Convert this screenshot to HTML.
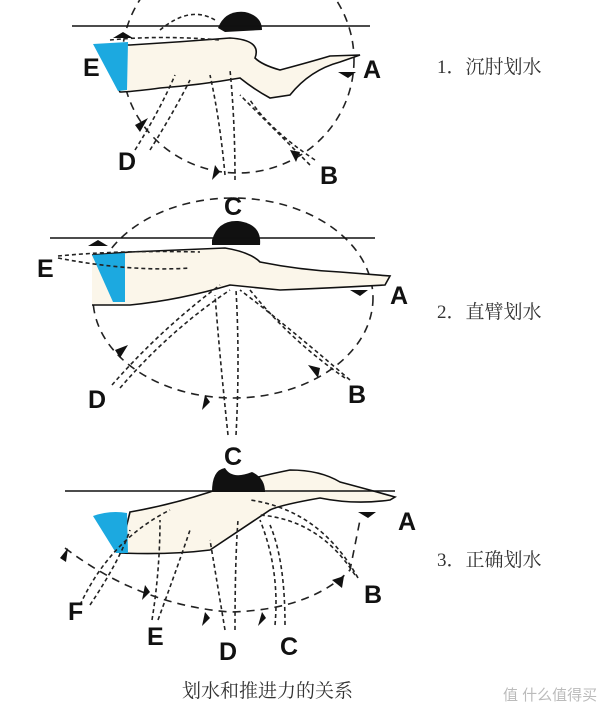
<!DOCTYPE html>
<html><head><meta charset="utf-8"><style>
html,body{margin:0;padding:0;background:#fff;width:600px;height:719px;overflow:hidden}
svg{display:block}
.L{font-family:"Liberation Sans",sans-serif;font-weight:bold;font-size:25px;fill:#111}
.T{font-family:"Liberation Serif","Noto Serif CJK SC",serif;font-size:19px;fill:#333}
.d{fill:none;stroke:#222;stroke-width:1.6;stroke-dasharray:4 3}
.c{fill:none;stroke:#222;stroke-width:1.6;stroke-dasharray:8 6}
.b{fill:#fbf6ea;stroke:#111;stroke-width:1.6}
.s{fill:#1ca9e0}
.a{fill:#111}
</style></head><body>
<svg width="600" height="719" viewBox="0 0 600 719" xmlns="http://www.w3.org/2000/svg">
<!-- Panel 1 -->
<ellipse class="c" cx="238" cy="60" rx="116" ry="113"/>
<path class="b" d="M95,45 L130,45 Q180,42 230,38 Q262,40 255,58 Q262,65 280,70 Q310,62 330,56 L360,55 L340,62 Q310,70 290,95 L270,98 Q255,90 240,78 Q200,85 160,88 Q130,92 120,92 Z"/>
<path class="s" d="M93,44 L128,42 L127,90 L118,91 Z"/>
<path d="M218,28 Q225,10 245,12 Q262,16 262,30 L225,32 Z" fill="#111"/>
<line x1="72" y1="26" x2="370" y2="26" stroke="#111" stroke-width="1.6"/>
<path class="d" d="M160,30 Q190,5 215,20 M110,40 Q160,35 220,40 M135,150 Q160,110 175,75 M150,150 Q175,110 190,80 M225,175 Q220,120 210,75 M235,180 Q235,120 230,70 M315,160 Q270,130 250,100 M310,165 Q260,115 240,95"/>
<path class="a" d="M113,38 L123,32 L133,38 Z M338,72 L348,78 L356,72 Z M135,125 L148,118 L140,132 Z M215,165 L212,180 L220,172 Z M290,150 L296,162 L300,152 Z"/>
<!-- Panel 2 -->
<ellipse class="c" cx="233" cy="298" rx="140" ry="100"/>
<path class="b" d="M92,255 L130,252 Q180,250 225,248 Q250,252 260,262 Q300,270 340,272 L390,276 L385,285 Q330,288 280,290 L230,285 Q180,300 130,305 L92,305" />
<path class="s" d="M92,255 L125,253 L125,302 L113,302 Z"/>
<path d="M212,240 Q218,220 238,221 Q262,224 260,245 L212,245 Z" fill="#111"/>
<line x1="50" y1="238" x2="375" y2="238" stroke="#111" stroke-width="1.6"/>
<path class="d" d="M58,256 Q120,250 200,252 M58,258 Q130,272 190,268 M112,385 Q160,330 220,285 M120,388 Q170,330 230,290 M228,435 Q220,360 215,295 M236,435 Q240,360 236,290 M345,378 Q290,340 250,290 M350,380 Q280,320 240,290"/>
<path class="a" d="M88,246 L98,240 L108,246 Z M350,290 L360,296 L368,290 Z M115,350 L128,345 L120,358 Z M205,395 L202,410 L210,402 Z M308,365 L318,378 L320,368 Z"/>
<!-- Panel 3 -->
<path class="c" d="M65,548 Q140,605 230,612 Q310,610 350,570 L360,520"/>
<path class="b" d="M130,512 Q170,505 210,492 L220,488 Q250,478 290,470 Q320,470 340,482 Q370,490 395,497 L390,500 Q355,505 320,498 Q280,505 270,510 Q240,530 210,550 Q170,555 120,553 Z"/>
<path class="s" d="M93,516 Q110,510 127,513 L128,553 L116,553 Z"/>
<path d="M212,492 Q212,470 225,468 Q232,480 252,472 Q265,478 265,492 Z" fill="#111"/>
<line x1="65" y1="491" x2="395" y2="491" stroke="#111" stroke-width="1.6"/>
<path class="d" d="M80,605 Q110,540 170,510 M90,605 Q120,560 130,530 M152,620 Q160,570 160,520 M158,620 Q180,560 190,530 M225,630 Q215,570 210,540 M235,630 Q235,560 238,520 M275,625 Q280,570 260,520 M285,625 Q285,560 270,525 M355,575 Q320,520 260,515 M358,578 Q320,510 250,500"/>
<path class="a" d="M358,512 L368,518 L376,512 Z M60,558 L68,548 L66,562 Z M145,585 L142,600 L150,592 Z M205,612 L202,626 L210,618 Z M262,612 L258,626 L266,618 Z M332,580 L342,588 L344,576 Z"/>
<!-- Labels -->
<text class="L" x="83" y="76">E</text><text class="L" x="363" y="78">A</text>
<text class="L" x="118" y="170">D</text><text class="L" x="320" y="184">B</text>
<text class="L" x="224" y="215">C</text>
<text class="L" x="37" y="277">E</text><text class="L" x="390" y="304">A</text>
<text class="L" x="88" y="408">D</text><text class="L" x="348" y="403">B</text>
<text class="L" x="224" y="465">C</text>
<text class="L" x="398" y="530">A</text><text class="L" x="364" y="603">B</text>
<text class="L" x="68" y="620">F</text><text class="L" x="147" y="645">E</text>
<text class="L" x="219" y="660">D</text><text class="L" x="280" y="655">C</text>
<text class="T" x="437" y="73">1．沉肘划水</text>
<text class="T" x="437" y="318">2．直臂划水</text>
<text class="T" x="437" y="566">3．正确划水</text>
<text class="T" x="182" y="697">划水和推进力的关系</text>
<text x="503" y="700" font-family="Liberation Sans,'Noto Sans CJK SC',sans-serif" font-size="15" fill="#bbb">值 什么值得买</text>
</svg>
</body></html>
